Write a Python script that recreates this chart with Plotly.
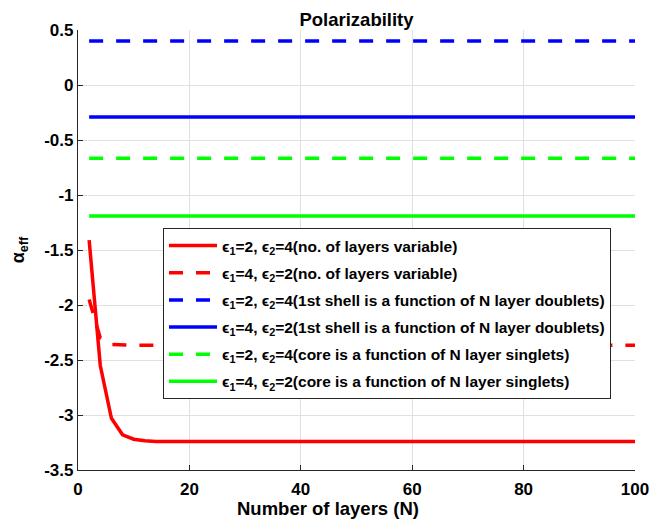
import plotly.graph_objects as go

N = list(range(2, 101, 2))

red_solid = [-1.41, -2.55, -3.03, -3.18, -3.22, -3.235] + [-3.24] * 44
red_dash = [-1.95, -2.30, -2.36] + [-2.365] * 47
blue_dash = [0.40] * 50
blue_solid = [-0.29] * 50
green_dash = [-0.665] * 50
green_solid = [-1.19] * 50

labels = [
    "ϵ<sub>1</sub>=2, ϵ<sub>2</sub>=4(no. of layers variable)",
    "ϵ<sub>1</sub>=4, ϵ<sub>2</sub>=2(no. of layers variable)",
    "ϵ<sub>1</sub>=2, ϵ<sub>2</sub>=4(1st shell is a function of N layer doublets)",
    "ϵ<sub>1</sub>=4, ϵ<sub>2</sub>=2(1st shell is a function of N layer doublets)",
    "ϵ<sub>1</sub>=2, ϵ<sub>2</sub>=4(core is a function of N layer singlets)",
    "ϵ<sub>1</sub>=4, ϵ<sub>2</sub>=2(core is a function of N layer singlets)",
]
series = [red_solid, red_dash, blue_dash, blue_solid, green_dash, green_solid]
colors = ["#ff0000", "#ff0000", "#0000ff", "#0000ff", "#00ff00", "#00ff00"]
dashes = ["solid", "14px,13px", "14px,13px", "solid", "14px,13px", "solid"]

font = "Liberation Sans, Arial, sans-serif"

fig = go.Figure()
for i, (y, lab, c, d) in enumerate(zip(series, labels, colors, dashes)):
    fig.add_trace(go.Scatter(x=N, y=y, mode="lines", name="<b>" + lab + "</b>",
                             legendgroup="g%d" % i,
                             line=dict(color=c, width=3.5, dash=d)))

fig.update_layout(
    width=662, height=519,
    margin=dict(l=78, r=27, t=30, b=49, autoexpand=False),
    paper_bgcolor="white", plot_bgcolor="white",
    font=dict(family=font, color="black"),
    title=dict(text="<b>Polarizability</b>", x=0.5, xref="paper", xanchor="center",
               y=1, yref="paper", yanchor="bottom", pad=dict(b=4),
               font=dict(size=18.5, color="black")),
    xaxis=dict(range=[0, 100], tickvals=[0, 20, 40, 60, 80, 100],
               ticktext=["<b>%d</b>" % v for v in [0, 20, 40, 60, 80, 100]],
               showgrid=True, gridcolor="#e0e0e0", gridwidth=1,
               showline=True, linecolor="#262626", linewidth=1.2,
               ticks="inside", ticklen=5, tickcolor="#262626", ticklabelstandoff=3,
               tickfont=dict(size=17), zeroline=False, automargin=False),
    yaxis=dict(range=[-3.5, 0.5], tickvals=[0.5, 0, -0.5, -1, -1.5, -2, -2.5, -3, -3.5],
               ticktext=["<b>%s</b>" % t for t in ["0.5", "0", "-0.5", "-1", "-1.5", "-2", "-2.5", "-3", "-3.5"]],
               showgrid=True, gridcolor="#e0e0e0", gridwidth=1,
               showline=True, linecolor="#262626", linewidth=1.2,
               ticks="inside", ticklen=5, tickcolor="#262626",
               tickfont=dict(size=17), zeroline=False, automargin=False,
               title=dict(text="<b>α<sub>eff</sub></b>", standoff=14, font=dict(size=18))),
    legend=dict(x=(163 - 78) / 557, y=(470 - 228) / 440, xanchor="left", yanchor="top",
                bgcolor="white", bordercolor="#262626", borderwidth=1,
                font=dict(size=15.5, family=font), itemwidth=48,
                traceorder="grouped", tracegroupgap=4),
    showlegend=True,
    annotations=[dict(text="<b>Number of layers (N)</b>", xref="paper", yref="paper",
                      x=(328 - 78) / 557, y=0, xanchor="center", yanchor="top",
                      yshift=-26, showarrow=False, font=dict(size=18.5, color="black"))],
)

fig.write_html(
    "out.html",
    config={"displayModeBar": False},
    post_script="document.body.style.margin='0';document.body.style.overflow='hidden';",
)
